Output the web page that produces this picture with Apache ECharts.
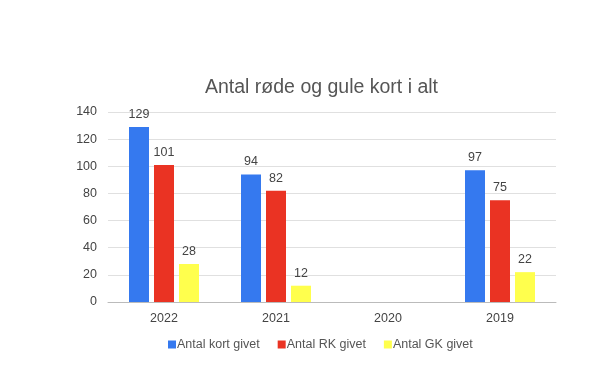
<!DOCTYPE html>
<html>
<head>
<meta charset="utf-8">
<script src="https://cdn.jsdelivr.net/npm/echarts@6/dist/echarts.min.js"></script>
<style>html,body{margin:0;padding:0;background:#fff;}#c{width:600px;height:369px;}</style>
</head>
<body>
<div id="c"></div>
<script>
const categories = ['2022', '2021', '2020', '2019'];
const seriesNames = ['Antal kort givet', 'Antal RK givet', 'Antal GK givet'];
const kortGivet = [129, 94, null, 97];
const rkGivet = [101, 82, null, 75];
const gkGivet = [28, 12, null, 22];
const yTicks = [0, 20, 40, 60, 80, 100, 120, 140];
const colors = ['#3579ef', '#ea3323', '#ffff4d'];

const chart = echarts.init(document.getElementById('c'));
const font = 'Liberation Sans, Arial, sans-serif';
const label = { show: true, position: 'top', color: '#444', fontSize: 12.5, fontFamily: font, distance: 6 };
const values = [kortGivet, rkGivet, gkGivet];
chart.setOption({
  animation: false,
  color: colors,
  title: {
    text: 'Antal røde og gule kort i alt',
    left: 200, top: 73,
    textStyle: { color: '#555', fontSize: 19.5, fontWeight: 'normal', fontFamily: font }
  },
  legend: {
    top: 333, left: 163,
    icon: 'rect', itemWidth: 8, itemHeight: 8, itemGap: 18,
    textStyle: { color: '#555', fontSize: 12.5, fontFamily: font, padding: [0, 0, 0, -4] },
    data: seriesNames
  },
  grid: { left: 108, right: 44, top: 112, bottom: 67 },
  xAxis: {
    type: 'category', data: categories,
    axisLine: { lineStyle: { color: '#bbb' } },
    axisTick: { show: false },
    axisLabel: { color: '#444', fontSize: 12.5, fontFamily: font, margin: 10 }
  },
  yAxis: {
    type: 'value', min: yTicks[0], max: yTicks[yTicks.length - 1], interval: 20,
    axisLine: { show: false }, axisTick: { show: false },
    splitLine: { lineStyle: { color: '#e0e0e0' } },
    axisLabel: { color: '#444', fontSize: 12.5, fontFamily: font, margin: 11 }
  },
  series: seriesNames.map((n, i) => ({
    name: n, type: 'bar', data: values[i],
    barWidth: 20, barGap: '25%',
    label: label,
    itemStyle: { color: colors[i] }
  }))
});
</script>
</body>
</html>
